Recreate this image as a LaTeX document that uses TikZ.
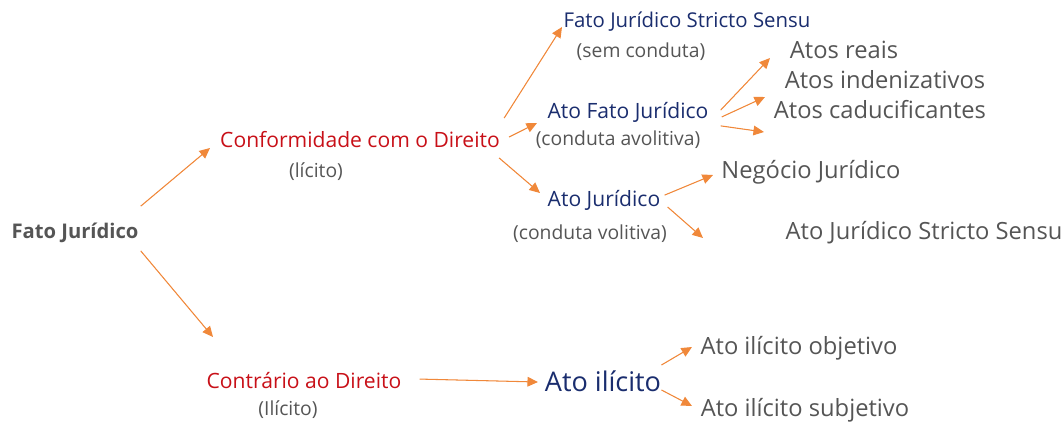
\documentclass[tikz,border=0pt]{standalone}
\usepackage{fontspec}
\setmainfont{Open Sans}
\usetikzlibrary{arrows.meta}

\definecolor{redtxt}{RGB}{200,16,24}
\definecolor{bluetxt}{RGB}{26,45,110}
\definecolor{graytxt}{RGB}{85,85,85}
\definecolor{arrorange}{RGB}{240,136,58}

\tikzset{
  smalltxt/.style={inner sep=0pt, font=\fontsize{12}{14}\selectfont},
  redlbl/.style={smalltxt, text=redtxt},
  bluelbl/.style={smalltxt, text=bluetxt},
  paren/.style={inner sep=0pt, text=graytxt, font=\fontsize{11}{13}\selectfont},
  leaf/.style={inner sep=0pt, text=graytxt, font=\fontsize{13.5}{15}\selectfont},
  arr/.style={draw=arrorange, line width=0.6pt, -{Triangle[length=6pt,width=5.5pt]}, fill=arrorange}
}

\begin{document}
\begin{tikzpicture}[x=0.02cm,y=-0.02cm]

\useasboundingbox (0,0) rectangle (1063,424);

% Part A: root and first level

\node[inner sep=0pt, text=graytxt, font=\fontsize{11.5}{13}\selectfont\bfseries] (fato) at (75,233) {Fato Jurídico};

\node[redlbl] (conforme) at (360,140) {Conformidade com o Direito};
\node[paren]  (licito)   at (316,172) {(lícito)};

\node[redlbl] (contrario) at (304,381) {Contrário ao Direito};
\node[paren]  (ilicito)   at (288,410) {(Ilícito)};

% Part B: lícito branch

\node[bluelbl, font=\fontsize{11.6}{14}\selectfont] (fatoss) at (687,22) {Fato Jurídico Stricto Sensu};
\node[paren]   (semcond)  at (641,52)  {(sem conduta)};

\node[bluelbl] (atofato)  at (628,112) {Ato Fato Jurídico};
\node[paren]   (avolit)   at (618,140) {(conduta avolitiva)};

\node[bluelbl] (atojur)   at (604,200) {Ato Jurídico};
\node[paren]   (volit)    at (590,234) {(conduta volitiva)};

% leaves of Ato Fato Jurídico
\node[leaf] (reais)  at (844,50)  {Atos reais};
\node[leaf] (indeni) at (885,80)  {Atos indenizativos};
\node[leaf] (caduc)  at (880,110) {Atos caducificantes};

% leaves of Ato Jurídico
\node[leaf] (negocio) at (811,172) {Negócio Jurídico};
\node[leaf] (ajss)    at (924,233) {Ato Jurídico Stricto Sensu};

% Part C: ilícito branch

\node[inner sep=0pt, text=bluetxt, font=\fontsize{15.4}{17}\selectfont] (atoilic) at (603,381) {Ato ilícito};

\node[leaf] (objet)  at (799,348) {Ato ilícito objetivo};
\node[leaf] (subjet) at (805,410) {Ato ilícito subjetivo};

% Part D: arrow tips

\coordinate (tipconf)   at (210,148);
\coordinate (tipcontr)  at (213,337);
\coordinate (tipfss)    at (562,27);
\coordinate (tipafj)    at (537,123);
\coordinate (tipaj)     at (540,193);
\coordinate (tipreais)  at (770,58);
\coordinate (tipindeni) at (765,97);
\coordinate (tipcaduc)  at (764,132);
\coordinate (tipneg)    at (713,175);
\coordinate (tipajss)   at (703,238);
\coordinate (tipai)     at (538,382);
\coordinate (tipobj)    at (692,347);
\coordinate (tipsub)    at (692,406);

% Part E: arrows

\draw[arr] ([xshift=1.1pt,yshift=15.3pt]fato.east) -- (tipconf);
\draw[arr] ([xshift=1.1pt,yshift=-10.2pt]fato.east) -- (tipcontr);

\draw[arr] ([xshift=2.3pt,yshift=12.5pt]conforme.east) -- (tipfss);
\draw[arr] ([xshift=5.1pt,yshift=1.7pt]conforme.east) -- (tipafj);
\draw[arr] ([xshift=-0.6pt,yshift=-10.2pt]conforme.east) -- (tipaj);

\draw[arr] ([xshift=6.8pt,yshift=1.1pt]atofato.east) -- (tipreais);
\draw[arr] ([xshift=7.4pt,yshift=-2.8pt]atofato.east) -- (tipindeni);
\draw[arr] ([xshift=6.8pt,yshift=-7.9pt]atofato.east) -- (tipcaduc);

\draw[arr] ([xshift=2.3pt,yshift=2.8pt]atojur.east) -- (tipneg);
\draw[arr] ([xshift=4pt,yshift=-4pt]atojur.east) -- (tipajss);

\draw[arr] ([xshift=10.2pt,yshift=1.1pt]contrario.east) -- (tipai);
\draw[arr] ([yshift=9.1pt]atoilic.east) -- (tipobj);
\draw[arr] ([yshift=-5.1pt]atoilic.east) -- (tipsub);

\end{tikzpicture}
\end{document}
